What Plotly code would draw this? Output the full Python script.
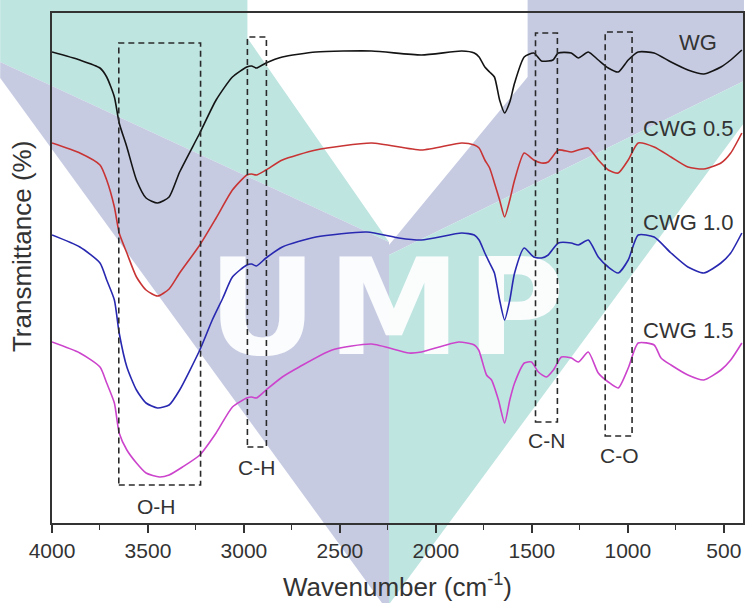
import plotly.graph_objects as go

# ---------------- data (wavenumber cm-1, transmittance a.u., offset curves) ----------------
wn_wg = [4000, 3855, 3750, 3715, 3675, 3650, 3610, 3560, 3510, 3450, 3390, 3335, 3230, 3145, 3060,
         2985, 2960, 2935, 2885, 2800, 2625, 2335, 2075, 1865, 1800, 1775, 1745, 1720, 1695, 1668,
         1642, 1615, 1590, 1540, 1490, 1450, 1415, 1390, 1362, 1295, 1258, 1206, 1154, 1102, 1050,
         998, 946, 863, 775, 687, 604, 515, 464, 406]
t_wg = [471, 463, 455, 446, 426, 400, 376, 343, 325, 320, 326, 351, 390, 423, 446,
        456, 457, 455, 460, 466, 471, 472, 468, 472, 470, 466, 456, 451, 446, 423,
        410, 421, 440, 466, 470, 462, 462, 463, 470, 470, 465, 471, 463, 455, 451,
        463, 471, 470, 461, 453, 449, 456, 463, 473]

wn_05 = [4000, 3855, 3750, 3715, 3675, 3650, 3610, 3560, 3510, 3450, 3390, 3335, 3230, 3145, 3060,
         2985, 2960, 2935, 2885, 2800, 2625, 2335, 2075, 1865, 1800, 1775, 1745, 1720, 1695, 1668,
         1642, 1615, 1590, 1540, 1490, 1450, 1415, 1362, 1295, 1258, 1206, 1154, 1102, 1050,
         998, 946, 863, 775, 687, 604, 515, 464, 406]
t_05 = [380, 370, 358, 343, 316, 290, 270, 246, 233, 227, 234, 250, 278, 305, 333,
        348, 349, 348, 353, 363, 373, 380, 373, 380, 378, 375, 363, 355, 340, 323,
        306, 323, 343, 370, 363, 360, 361, 373, 371, 373, 375, 363, 353, 350,
        363, 380, 376, 366, 356, 354, 360, 370, 390]

wn_10 = [4000, 3855, 3750, 3715, 3675, 3650, 3610, 3560, 3510, 3450, 3390, 3335, 3230, 3165, 3110,
         3060, 2985, 2960, 2935, 2885, 2800, 2625, 2360, 2193, 2075, 1865, 1800, 1775, 1745, 1720,
         1695, 1668, 1642, 1615, 1590, 1540, 1490, 1450, 1415, 1362, 1295, 1258, 1206, 1154, 1102,
         1050, 998, 946, 863, 775, 687, 604, 515, 464, 406]
t_10 = [288, 276, 260, 243, 223, 190, 156, 133, 120, 115, 118, 133, 173, 203, 225,
        246, 258, 259, 257, 265, 276, 286, 291, 285, 283, 290, 288, 283, 270, 260,
        250, 223, 203, 223, 250, 275, 266, 265, 268, 280, 280, 278, 283, 266, 256,
        250, 263, 288, 286, 270, 256, 250, 260, 270, 290]

wn_15 = [4000, 3855, 3750, 3715, 3675, 3650, 3610, 3560, 3510, 3440, 3390, 3320, 3230, 3145, 3060,
         2985, 2960, 2935, 2885, 2800, 2712, 2541, 2335, 2141, 2075, 1881, 1800, 1777, 1736, 1710,
         1674, 1642, 1615, 1590, 1539, 1502, 1466, 1424, 1388, 1346, 1294, 1258, 1206, 1154, 1102,
         1050, 998, 946, 863, 827, 775, 687, 604, 515, 464, 406]
t_15 = [181, 170, 156, 140, 120, 90, 73, 60, 50, 46, 48, 56, 68, 90, 116,
        125, 126, 125, 133, 146, 156, 173, 179, 170, 171, 181, 178, 173, 148, 143,
        123, 100, 123, 140, 160, 161, 151, 146, 153, 166, 165, 161, 171, 150, 141,
        135, 155, 180, 178, 165, 158, 148, 143, 153, 163, 180]

series_names = ["WG", "CWG 0.5", "CWG 1.0", "CWG 1.5"]
series_colors = ["#141414", "#c83434", "#2828b0", "#cc44cc"]
series_label_x = [635, 687, 687, 687]
series_label_y = [481, 395, 301, 193]

bond_labels = ["O-H", "C-H", "C-N", "C-O"]
bond_x0 = [3652, 2982, 1481, 1118]
bond_x1 = [3226, 2883, 1367, 978]
bond_y0 = [38, 76, 101, 87]
bond_y1 = [480, 486, 490, 491]
bond_label_x = [3455, 2935, 1424, 1045]
bond_label_y = [17, 56, 83, 68]

x_ticks = [4000, 3500, 3000, 2500, 2000, 1500, 1000, 500]

# ---------------- figure ----------------
W, H = 746, 603
L, R, T, B = 52, 1, 13, 80
PW, PH = W - L - R, H - T - B

def px(x, y):
    return (x - L) / PW, (H - B - y) / PH

def poly(points):
    pts = [px(x, y) for x, y in points]
    return "M " + " L ".join(f"{a:.4f},{b:.4f}" for a, b in pts) + " Z"

teal = "#bfe5e1"
purple = "#c6cbe2"
text_col = "#333333"
font_main = "Liberation Sans, Arial, sans-serif"

shapes = []
# watermark polygons (decoration, pixel positions)
wm = [
    ([(0, 0), (248, 0), (248, 38), (390, 242), (0, 62)], teal),
    ([(0, 62), (390, 242), (390, 603), (383, 603), (0, 78)], purple),
    ([(529, 0), (746, 0), (746, 81), (390, 255), (390, 245), (529, 77)], purple),
    ([(390, 255), (746, 81), (746, 123), (391, 603), (390, 603)], teal),
]
for pts, col in wm:
    shapes.append(dict(type="path", xref="paper", yref="paper", path=poly(pts),
                       fillcolor=col, line=dict(width=0), layer="below"))

for letter, (x0, x1) in zip("UMP", [(214, 312), (330, 460), (468, 566)]):
    a0, b0 = px(x0, 348)
    a1, b1 = px(x1, 248)
    shapes.append(dict(type="rect", xref="paper", yref="paper", x0=a0, x1=a1, y0=b0, y1=b1,
                       line=dict(width=0), fillcolor="rgba(0,0,0,0)", layer="below",
                       label=dict(text=letter, textposition="middle center",
                                  font=dict(family="DejaVu Sans", size=134, color="rgba(255,255,255,0.93)",
                                            weight="bold"))))

for i in range(len(bond_labels)):
    shapes.append(dict(type="rect", xref="x", yref="y", x0=bond_x0[i], x1=bond_x1[i],
                       y0=bond_y0[i], y1=bond_y1[i],
                       line=dict(color="#2a2a2a", width=1.6, dash="6px,4px"),
                       fillcolor="rgba(0,0,0,0)"))

fig = go.Figure()
for name, xs, ys, col in zip(series_names, [wn_wg, wn_05, wn_10, wn_15], [t_wg, t_05, t_10, t_15], series_colors):
    fig.add_trace(go.Scatter(x=xs, y=ys, mode="lines", name=name,
                             line=dict(color=col, width=1.6, shape="spline", smoothing=0.6),
                             showlegend=False))

annotations = []
for name, ax, ay in zip(series_names, series_label_x, series_label_y):
    annotations.append(dict(x=ax, y=ay, xref="x", yref="y", text=name, showarrow=False,
                            font=dict(family=font_main, size=22, color=text_col)))
for name, ax, ay in zip(bond_labels, bond_label_x, bond_label_y):
    annotations.append(dict(x=ax, y=ay, xref="x", yref="y", text=name, showarrow=False,
                            font=dict(family=font_main, size=21, color=text_col)))
# y-axis title (placed as rotated text, slightly above the plot centre as in the reference)
yt_x, yt_y = px(22, 247)
annotations.append(dict(x=yt_x, y=yt_y, xref="paper", yref="paper", text="Transmittance (%)",
                        textangle=-90, showarrow=False, xanchor="center", yanchor="middle",
                        font=dict(family=font_main, size=26, color=text_col)))

fig.update_layout(
    width=W, height=H,
    margin=dict(l=L, r=R, t=T, b=B),
    paper_bgcolor="white", plot_bgcolor="rgba(0,0,0,0)",
    shapes=shapes, annotations=annotations,
    font=dict(family=font_main, color=text_col),
)
fig.update_xaxes(
    range=[4000, 400], tickvals=x_ticks, ticktext=[str(v) for v in x_ticks],
    ticks="outside", ticklen=8, tickwidth=1.5, tickcolor=text_col,
    minor=dict(ticks="outside", ticklen=5, tickwidth=1.3, tickcolor=text_col, dtick=250, tick0=0),
    showline=True, mirror=True, linecolor=text_col, linewidth=1.6,
    showgrid=False, zeroline=False,
    tickfont=dict(size=21, color=text_col),
    title=dict(text="Wavenumber (cm<sup>-1</sup>)", font=dict(size=26, color=text_col), standoff=17),
)
fig.update_yaxes(
    range=[0, 510], showticklabels=False, ticks="",
    showline=True, mirror=True, linecolor=text_col, linewidth=1.6,
    showgrid=False, zeroline=False,
)

fig.write_html("out.html", config={"displayModeBar": False},
               post_script="document.body.style.margin='0';document.body.style.overflow='hidden';")
